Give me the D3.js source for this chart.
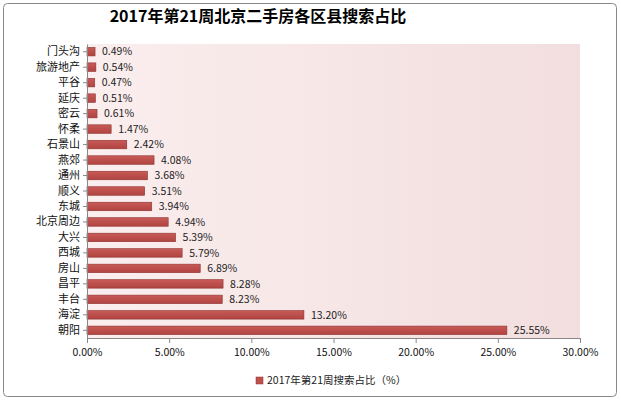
<!DOCTYPE html>
<html><head><meta charset="utf-8">
<script src="https://cdn.jsdelivr.net/npm/d3@7"></script>
<style>body{margin:0;background:#fff}text{font-family:"Noto Sans CJK SC",sans-serif}</style>
</head><body><svg id="c" width="621" height="402"></svg>
<script>
const categories = ["门头沟","旅游地产","平谷","延庆","密云","怀柔","石景山","燕郊","通州","顺义","东城","北京周边","大兴","西城","房山","昌平","丰台","海淀","朝阳"];
const values = [0.49,0.54,0.47,0.51,0.61,1.47,2.42,4.08,3.68,3.51,3.94,4.94,5.39,5.79,6.89,8.28,8.23,13.20,25.55];
const xTicks = [0,5,10,15,20,25,30];

const svg = d3.select("#c");
const m = {left: 87, right: 580, top: 44, bottom: 338};

svg.append("rect").attr("x",3.5).attr("y",3.5).attr("width",613).attr("height",393)
  .attr("rx",4).attr("fill","#fff").attr("stroke","#888");

const defs = svg.append("defs");
const bg = defs.append("linearGradient").attr("id","bg");
bg.append("stop").attr("offset","0").attr("stop-color","#fbeeee");
bg.append("stop").attr("offset","1").attr("stop-color","#f2dede");
const bar = defs.append("linearGradient").attr("id","bar").attr("x1",0).attr("y1",0).attr("x2",0).attr("y2",1);
bar.append("stop").attr("offset","0").attr("stop-color","#c85a57");
bar.append("stop").attr("offset","1").attr("stop-color","#b04441");

const x = d3.scaleLinear().domain([0,30]).range([m.left,m.right]);
const y = d3.scaleBand().domain(categories).range([m.top,m.bottom]).paddingInner(0.45).paddingOuter(0.22);

svg.append("rect").attr("x",m.left).attr("y",m.top).attr("width",m.right-m.left).attr("height",m.bottom-m.top).attr("fill","url(#bg)");

svg.append("text").attr("x",258).attr("y",22).attr("text-anchor","middle")
  .attr("font-size",16).attr("font-weight","bold").text("2017年第21周北京二手房各区县搜索占比");

svg.selectAll(".bar").data(categories).join("rect")
  .attr("x",x(0)).attr("y",d=>y(d)).attr("height",y.bandwidth())
  .attr("width",(d,i)=>x(values[i])-x(0)).attr("fill","url(#bar)").attr("stroke","#8e3330").attr("stroke-width",0.6);

svg.selectAll(".lbl").data(categories).join("text")
  .attr("x",(d,i)=>x(values[i])+7).attr("y",d=>y(d)+y.bandwidth()/2).attr("dy","0.35em")
  .attr("font-size",10.5).attr("fill","#222").text((d,i)=>values[i].toFixed(2)+"%");

const ya = svg.append("g").attr("transform",`translate(${m.left},0)`)
  .call(d3.axisLeft(d3.scaleBand().domain(categories).range([m.top,m.bottom])).tickSize(4).tickSizeOuter(0));
ya.selectAll("text").attr("font-size",11).attr("fill","#111");
ya.selectAll("line").attr("stroke","#888");
ya.select(".domain").attr("stroke","#888");

const xa = svg.append("g").attr("transform",`translate(0,${m.bottom})`)
  .call(d3.axisBottom(x).tickValues(xTicks).tickFormat(d=>d.toFixed(2)+"%").tickSize(5).tickSizeOuter(0).tickPadding(6));
xa.selectAll("text").attr("font-size",10.5).attr("fill","#111");
xa.selectAll("line").attr("stroke","#888");
xa.select(".domain").attr("stroke","#888");

svg.append("rect").attr("x",256).attr("y",377).attr("width",7).attr("height",7).attr("fill","#c0504d").attr("stroke","#8e3330").attr("stroke-width",0.5);
svg.append("text").attr("x",267).attr("y",384).attr("font-size",10.5).attr("fill","#222").text("2017年第21周搜索占比（%）");
</script></body></html>
